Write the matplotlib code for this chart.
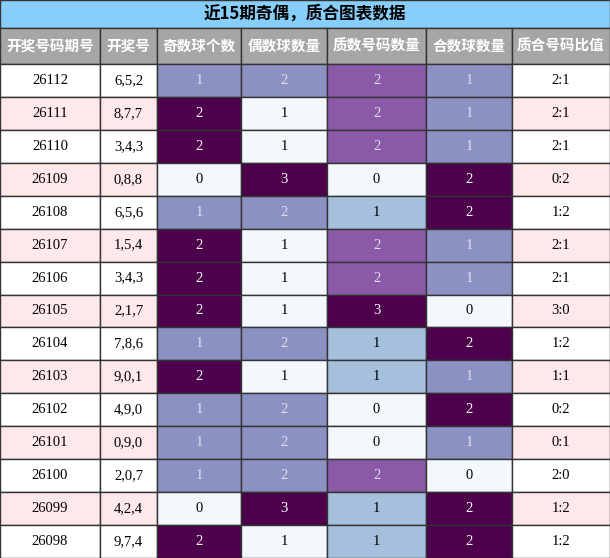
import matplotlib
matplotlib.use("Agg")
import matplotlib.pyplot as plt
from matplotlib.patches import Rectangle
from matplotlib import cm, colors

title = "近15期奇偶，质合图表数据"
headers = ["开奖号码期号", "开奖号", "奇数球个数", "偶数球数量", "质数号码数量", "合数球数量", "质合号码比值"]
periods = ["26112","26111","26110","26109","26108","26107","26106","26105","26104","26103","26102","26101","26100","26099","26098"]
draws = ["6,5,2","8,7,7","3,4,3","0,8,8","6,5,6","1,5,4","3,4,3","2,1,7","7,8,6","9,0,1","4,9,0","0,9,0","2,0,7","4,2,4","9,7,4"]
odd = [1,2,2,0,1,2,2,2,1,2,1,1,1,0,2]
even = [2,1,1,3,2,1,1,1,2,1,2,2,2,3,1]
prime = [2,2,2,0,1,2,2,3,1,1,0,0,2,1,1]
comp = [1,1,1,2,2,1,1,0,2,1,2,1,0,2,2]
ratio = ["2:1","2:1","2:1","0:2","1:2","2:1","2:1","3:0","1:2","1:1","0:2","0:1","2:0","1:2","1:2"]

W, H = 610, 558
fig = plt.figure(figsize=(W/100, H/100), dpi=100)
ax = fig.add_axes([0, 0, 1, 1])
ax.set_xlim(0, W); ax.set_ylim(H, 0); ax.axis("off")

xs = [0, 100, 157, 241, 327, 426, 512, 610]
title_h, head_h = 28, 36
row_h = (H - title_h - head_h) / len(periods)
serif = ["Liberation Serif", "Noto Sans CJK SC"]
sans = ["Noto Sans CJK SC", "DejaVu Sans"]
edge = "#333333"

ax.add_patch(Rectangle((0, 0), W, title_h, fc="#87cefa", ec=edge, lw=1))
ax.text(W/2, title_h/2, title, ha="center", va="center", fontsize=12, fontweight="bold", family=sans)
for i, h in enumerate(headers):
    ax.add_patch(Rectangle((xs[i], title_h), xs[i+1]-xs[i], head_h, fc="#a6a6a6", ec=edge, lw=1))
    ax.text((xs[i]+xs[i+1])/2, title_h+head_h/2, h, ha="center", va="center", fontsize=10.5,
            fontweight="bold", color="white", family=sans)

cmap = matplotlib.colormaps["BuPu"]
numcols = [odd, even, prime, comp]
for r in range(len(periods)):
    y = title_h + head_h + r*row_h
    bg = "white" if r % 2 == 0 else "#ffe8ea"
    vals = [periods[r], draws[r]] + [c[r] for c in numcols] + [ratio[r]]
    for c, v in enumerate(vals):
        fc, tc = bg, "black"
        if 2 <= c <= 5:
            col = numcols[c-2]
            lo, hi = min(col), max(col)
            t = (v - lo) / (hi - lo)
            fc = cmap(0.03 + 0.97*t)
            if t > 0.9:
                tc = "white"
            elif t > 0.45:
                tc = "#e0e0f0"
        ax.add_patch(Rectangle((xs[c], y), xs[c+1]-xs[c], row_h, fc=fc, ec=edge, lw=1))
        ax.text((xs[c]+xs[c+1])/2, y+row_h/2, str(v), ha="center", va="center",
                fontsize=10.5, color=tc, family=serif)

fig.savefig("out.png", dpi=100)
